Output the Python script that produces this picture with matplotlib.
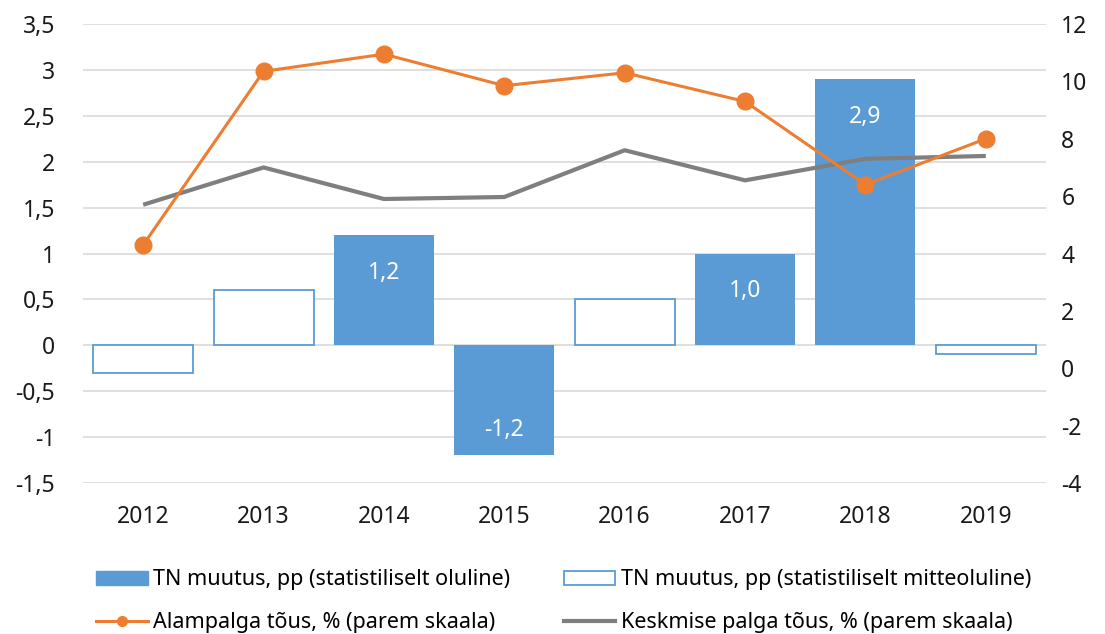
import matplotlib.pyplot as plt
import numpy as np
from matplotlib.patches import Patch
from matplotlib.lines import Line2D

plt.rcParams['font.family'] = ['Noto Sans', 'DejaVu Sans']
plt.rcParams['axes.unicode_minus'] = False

years = ['2012', '2013', '2014', '2015', '2016', '2017', '2018', '2019']
tn_change = [-0.3, 0.6, 1.2, -1.2, 0.5, 1.0, 2.9, -0.1]
significant = [False, False, True, True, False, True, True, False]
min_wage = [4.3, 10.35, 10.95, 9.85, 10.3, 9.3, 6.4, 8.0]
avg_wage = [5.7, 7.0, 5.9, 5.97, 7.6, 6.55, 7.3, 7.4]

left_ticks = [-1.5, -1, -0.5, 0, 0.5, 1, 1.5, 2, 2.5, 3, 3.5]
right_ticks = [-4, -2, 0, 2, 4, 6, 8, 10, 12]

blue = '#5B9BD5'
orange = '#ED7D31'
gray = '#7F7F7F'
txt = '#1a1a1a'

fig = plt.figure(figsize=(11.05, 6.34), dpi=100)
ax1 = fig.add_axes([0.0751, 0.2382, 0.8715, 0.7239])
ax2 = ax1.twinx()

x = np.arange(len(years))
for xi, v, sig in zip(x, tn_change, significant):
    if sig:
        ax1.bar(xi, v, width=0.83, color=blue, zorder=2)
        lbl = f'{v:.1f}'.replace('.', ',')
        off = -27 if v >= 0 else 18
        ax1.annotate(lbl, (xi, v), xytext=(0, off), textcoords='offset points',
                     ha='center', va='center', color='white', fontsize=16.5)
    else:
        ax1.bar(xi, v, width=0.83, facecolor='white', edgecolor=blue,
                linewidth=1.3, zorder=2)

ax1.set_xlim(-0.5, len(years) - 0.5)
ax1.set_ylim(-1.5, 3.5)
ax1.set_yticks(left_ticks)
ax1.set_yticklabels([f'{t:g}'.replace('.', ',') for t in left_ticks])
ax1.set_xticks(x)
ax1.set_xticklabels(years)
ax1.grid(axis='y', color='#D9D9D9', linewidth=1.2, zorder=0)
ax1.set_axisbelow(True)

ax2.plot(x, avg_wage, color=gray, linewidth=3, solid_capstyle='butt', zorder=3)
ax2.plot(x, min_wage, color=orange, linewidth=2.2, marker='o', markersize=12,
         zorder=4)
ax2.set_ylim(-4, 12)
ax2.set_yticks(right_ticks)

for ax in (ax1, ax2):
    for s in ax.spines.values():
        s.set_visible(False)
ax1.tick_params(axis='y', length=0, pad=20, labelsize=16.5, colors=txt)
ax1.tick_params(axis='x', length=0, pad=16, labelsize=16.5, colors=txt)
ax2.tick_params(axis='y', length=0, pad=11, labelsize=16.5, colors=txt)

h_sig = Patch(facecolor=blue, edgecolor=blue)
h_ns = Patch(facecolor='white', edgecolor=blue, linewidth=1.3)
h_min = Line2D([], [], color=orange, linewidth=2.2, marker='o', markersize=7)
h_avg = Line2D([], [], color=gray, linewidth=3)

leg_kw = dict(loc='upper left', frameon=False, fontsize=15.5, handlelength=2.4,
              handleheight=0.6, handletextpad=0.25, labelspacing=1.0,
              borderaxespad=0, borderpad=0)
fig.legend([h_sig, h_min], ['TN muutus, pp (statistiliselt oluline)',
                            'Alampalga tõus, % (parem skaala)'],
           bbox_to_anchor=(0.087, 0.102), **leg_kw)
fig.legend([h_ns, h_avg], ['TN muutus, pp (statistiliselt mitteoluline)',
                           'Keskmise palga tõus, % (parem skaala)'],
           bbox_to_anchor=(0.510, 0.102), **leg_kw)

fig.savefig('out.png', dpi=100)
